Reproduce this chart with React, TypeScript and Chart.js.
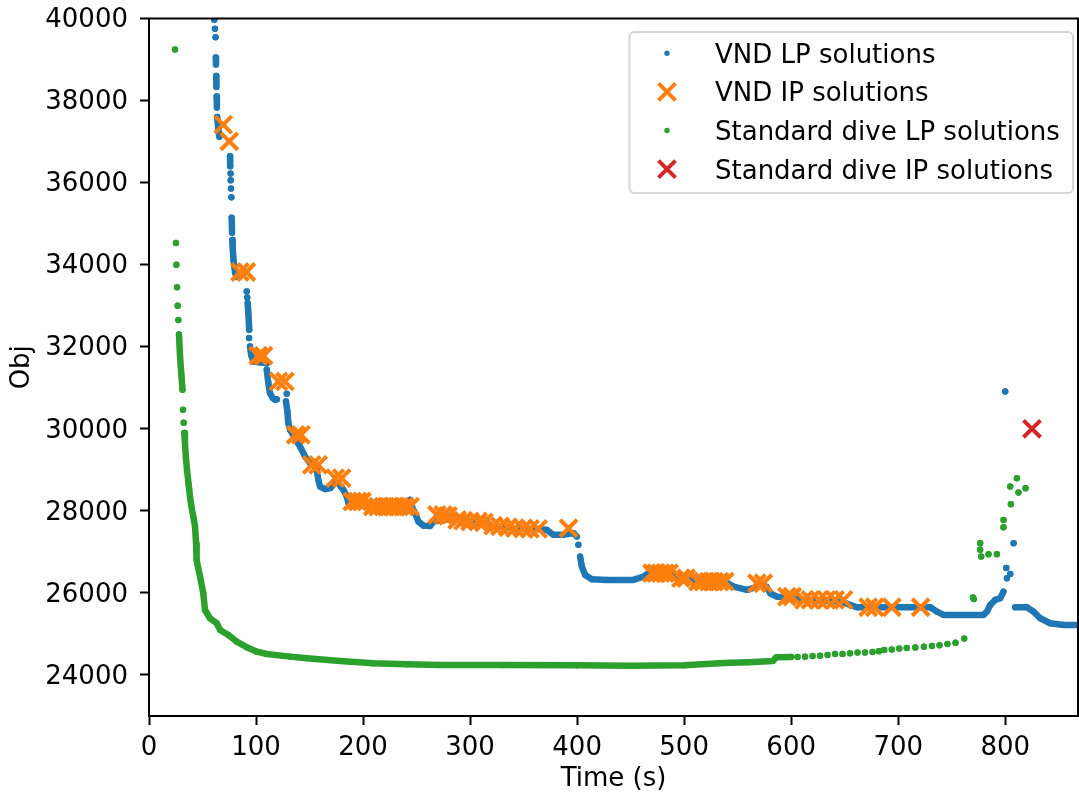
import React, { useEffect, useRef } from 'react';
import { Chart, registerables } from 'chart.js';

Chart.register(...registerables);

const FONT = '"DejaVu Sans", "Liberation Sans", sans-serif';

const seriesLabels = ['VND LP solutions', 'VND IP solutions', 'Standard dive LP solutions', 'Standard dive IP solutions'];
const seriesColors = ['#1f77b4', '#ff7f0e', '#2ca02c', '#d62728'];
const xTickValues = [0, 100, 200, 300, 400, 500, 600, 700, 800];
const yTickValues = [24000, 26000, 28000, 30000, 32000, 34000, 36000, 38000, 40000];
const xLimits = [0, 868];
const yLimits = [23000, 40000];
const xTitle = 'Time (s)';
const yTitle = 'Obj';

type P = [number, number];

// VND LP solutions: dense runs of points and isolated points
const vndLpRuns: P[][] = [
  [[62.4, 39050], [62.6, 38880]],
  [[62.8, 38600], [63.0, 38330]],
  [[63.2, 38100], [63.4, 37830]],
  [[63.7, 37600], [64.6, 37350], [65.7, 37120]],
  [[75.7, 36640], [75.9, 36400]],
  [[77.2, 35146], [77.6, 34780]],
  [[77.8, 34600], [78.2, 34415], [79.0, 34100], [80.4, 33805], [82.0, 33700], [84.0, 33700]],
  [[92.2, 33065], [92.8, 32830], [93.7, 32415]],
  [[94.4, 32007], [95.5, 31800], [97.5, 31640], [103, 31620], [110, 31600]],
  [[110, 31440], [111.5, 31115], [113, 30870], [115.6, 30750], [117.8, 30707], [119.5, 30720]],
  [[128, 30666], [129.3, 30422], [130.2, 30139], [131.8, 29976], [136.4, 29773], [141.1, 29568], [145.8, 29324], [150.5, 29163], [155, 29080], [156.7, 29000], [158.2, 28756], [159.8, 28593], [164.5, 28530], [169.2, 28553], [172.2, 28634], [175, 28700]],
  [[179, 28600], [181.6, 28512], [184.8, 28349], [186.3, 28187], [200, 28180], [220, 28120], [240, 28100], [246, 28080]],
  [[247.5, 28000], [248.6, 27950], [251.7, 27740], [256.4, 27640], [262.6, 27630], [265.7, 27739], [280, 27800], [298.4, 27764], [320, 27640], [343.6, 27560], [358.6, 27560], [371.6, 27537], [377.9, 27415], [387.2, 27415], [392, 27440], [396.6, 27455], [399.7, 27374]],
  [[402.8, 26886], [404.4, 26642], [407.5, 26439], [413.7, 26334], [427.8, 26317], [452.6, 26317], [462, 26398], [466.6, 26480], [490, 26439], [497, 26380], [505, 26330], [512, 26290], [540, 26250], [546, 26154], [558.6, 26073], [565, 26120], [572, 26180], [577, 26150], [580.4, 25992], [586.6, 25910], [600, 25870], [612, 25829], [640, 25800], [650, 25760], [655, 25707], [661.4, 25651], [730, 25651], [736.1, 25544], [742.4, 25463], [779.7, 25463], [782.9, 25544], [786, 25707], [790.6, 25829], [795.3, 25870], [798.4, 26032]],
  [[809.3, 25651], [820.3, 25651], [826.4, 25544], [832.7, 25383], [842, 25261], [854.5, 25220], [870, 25220]],
];
const vndLpDots: P[] = [
  [60.6, 40250], [61.0, 39970], [61.6, 39750], [62.2, 39545],
  [76.2, 36220], [76.3, 36057], [76.6, 35854], [77.0, 35642],
  [91.3, 33349], [91.8, 33200], [93.5, 32212], [128.7, 30854], [244, 28268], [401.2, 27171],
  [800, 30910], [801, 26610], [801.6, 26358], [804.7, 26463], [807.8, 27212],
];

// VND IP solutions
const vndIpTime = [69.4, 75, 85, 91, 102, 107, 121, 127, 137, 142, 152, 158, 174, 180, 190, 195, 199, 209, 214, 219, 224, 229, 234, 239, 244, 269, 274.8, 279.4, 287.9, 293.5, 300, 307.5, 313, 321.5, 328, 335.5, 342, 349.5, 356, 363.6, 392, 470, 474, 478, 482, 486, 497, 502, 513, 518, 523, 528, 533, 538, 568, 574, 596, 601, 612, 618, 626, 633, 641, 649, 672, 678, 694, 721];
const vndIpObj = [37415, 37007, 33822, 33822, 31780, 31780, 31154, 31154, 29854, 29854, 29122, 29122, 28797, 28797, 28228, 28228, 28228, 28105, 28105, 28105, 28105, 28105, 28105, 28105, 28105, 27900, 27900, 27880, 27780, 27760, 27740, 27740, 27720, 27640, 27620, 27600, 27580, 27570, 27560, 27560, 27577, 26480, 26480, 26480, 26480, 26480, 26358, 26358, 26276, 26276, 26276, 26276, 26276, 26276, 26236, 26236, 25910, 25910, 25829, 25829, 25829, 25829, 25829, 25829, 25651, 25651, 25651, 25651];

// Standard dive LP solutions
const diveLpRuns: P[][] = [
  [[28, 32300], [29, 31765], [30.3, 31300], [31.3, 30950]],
  [[33.0, 29900], [33.6, 29650], [34.5, 29300], [35.5, 29000], [37, 28650], [38.3, 28350], [40, 28050], [41.5, 27850], [43, 27617], [44, 27200], [44.5, 26805], [46, 26600], [47.7, 26398], [50.7, 25992], [52.3, 25585], [57, 25383], [63.3, 25260], [66.4, 25098], [74.1, 24976], [82, 24812], [91.3, 24675], [100.7, 24568], [110, 24512], [131.8, 24447], [147.4, 24407], [178.5, 24341], [209.6, 24285], [240.8, 24260], [272, 24244], [330, 24240], [400, 24235], [450, 24222], [500, 24235], [537, 24290], [560, 24310], [583, 24341], [586, 24431], [600, 24440]],
];
const diveLpDots: P[] = [
  [24.3, 39244], [25.2, 34529], [25.6, 34000], [26.2, 33450], [26.8, 33000], [27.4, 32650], [31.8, 30463], [32.4, 30150],
  [606, 24440], [613, 24447], [620, 24460], [627, 24470], [634, 24488], [641, 24512], [648, 24512], [655, 24528], [662, 24545], [669, 24545], [676, 24560], [682, 24580], [687, 24610], [694, 24620], [701, 24645], [708, 24658], [716, 24672], [724, 24690], [731.5, 24707], [738.6, 24724], [746, 24756], [753.6, 24788], [761.7, 24886],
  [769.8, 25890], [770.6, 25850], [776.6, 27212], [776.6, 27050], [777.6, 26886], [784.4, 26943], [792.2, 26943], [798.4, 27780], [798.4, 27602], [805.3, 28163], [804.7, 28593], [810.9, 28797], [812.4, 28447], [819, 28553],
];

// Standard dive IP solutions
const diveIpTime = [825];
const diveIpObj = [30000];

function buildTrace(runs: P[][], dots: P[]) {
  const out: { x: number; y: number | null }[] = [];
  const gap = () => {
    if (out.length) out.push({ x: out[out.length - 1].x, y: null });
  };
  runs.forEach((run) => {
    gap();
    run.forEach(([x, y]) => out.push({ x, y }));
  });
  dots.forEach(([x, y]) => {
    gap();
    out.push({ x, y });
  });
  return out;
}

const DOT_R = 3.1;
const LINE_W = 6.5;
const X_R = 12;
const X_W = 4;

function drawX(ctx: CanvasRenderingContext2D, x: number, y: number, color: string) {
  const d = X_R * Math.SQRT1_2;
  ctx.save();
  ctx.strokeStyle = color;
  ctx.lineWidth = X_W;
  ctx.beginPath();
  ctx.moveTo(x - d, y - d);
  ctx.lineTo(x + d, y + d);
  ctx.moveTo(x + d, y - d);
  ctx.lineTo(x - d, y + d);
  ctx.stroke();
  ctx.restore();
}

const framePlugin = {
  id: 'frame',
  afterDatasetsDraw(chart: any) {
    const { ctx, chartArea } = chart;
    ctx.save();
    ctx.strokeStyle = '#000';
    ctx.lineWidth = 2;
    ctx.strokeRect(chartArea.left, chartArea.top, chartArea.right - chartArea.left, chartArea.bottom - chartArea.top);
    ctx.restore();
  },
};

const legendPlugin = {
  id: 'insideLegend',
  afterDraw(chart: any) {
    const ctx: CanvasRenderingContext2D = chart.ctx;
    const x0 = 629.5, y0 = 32, w = 443.5, h = 161, r = 5;
    ctx.save();
    ctx.beginPath();
    ctx.moveTo(x0 + r, y0);
    ctx.lineTo(x0 + w - r, y0);
    ctx.arcTo(x0 + w, y0, x0 + w, y0 + r, r);
    ctx.lineTo(x0 + w, y0 + h - r);
    ctx.arcTo(x0 + w, y0 + h, x0 + w - r, y0 + h, r);
    ctx.lineTo(x0 + r, y0 + h);
    ctx.arcTo(x0, y0 + h, x0, y0 + h - r, r);
    ctx.lineTo(x0, y0 + r);
    ctx.arcTo(x0, y0, x0 + r, y0, r);
    ctx.closePath();
    ctx.fillStyle = 'rgba(255,255,255,0.8)';
    ctx.fill();
    ctx.lineWidth = 2;
    ctx.strokeStyle = '#d6d6d6';
    ctx.stroke();

    const markerX = 667;
    const textX = 715;
    chart.data.datasets.forEach((ds: any, i: number) => {
      const rowY = 53.3 + i * 38.6;
      const color = seriesColors[i];
      if (ds.pointStyle === 'crossRot') {
        drawX(ctx, markerX, rowY, color);
      } else {
        ctx.fillStyle = color;
        ctx.beginPath();
        ctx.arc(markerX, rowY, 2.7, 0, Math.PI * 2);
        ctx.fill();
      }
      ctx.fillStyle = '#000';
      ctx.font = `26px ${FONT}`;
      ctx.textAlign = 'left';
      ctx.textBaseline = 'alphabetic';
      ctx.fillText(ds.label, textX, rowY + 9.5);
    });
    ctx.restore();
  },
};

export default function App() {
  const ref = useRef<HTMLCanvasElement | null>(null);

  useEffect(() => {
    document.body.style.margin = '0';
    const canvas = ref.current;
    if (!canvas) return;

    const lineSeries = (i: number, data: any[], order: number) => ({
      label: seriesLabels[i],
      data,
      showLine: true,
      spanGaps: false,
      borderColor: seriesColors[i],
      backgroundColor: seriesColors[i],
      borderWidth: LINE_W,
      borderCapStyle: 'round',
      borderJoinStyle: 'round',
      tension: 0,
      pointStyle: 'circle',
      pointRadius: DOT_R,
      pointHoverRadius: DOT_R,
      pointBorderWidth: 0,
      pointBackgroundColor: seriesColors[i],
      order,
      clip: 0,
    });
    const crossSeries = (i: number, xs: number[], ys: number[], order: number) => ({
      label: seriesLabels[i],
      data: xs.map((x, k) => ({ x, y: ys[k] })),
      showLine: false,
      pointStyle: 'crossRot',
      pointRadius: X_R,
      pointHoverRadius: X_R,
      pointBorderWidth: X_W,
      pointBorderColor: seriesColors[i],
      pointBackgroundColor: seriesColors[i],
      borderColor: seriesColors[i],
      backgroundColor: seriesColors[i],
      order,
      clip: 0,
    });

    const zeroPad = (s: any) => {
      s.paddingTop = 0;
      s.paddingBottom = 0;
      s.paddingLeft = 0;
      s.paddingRight = 0;
    };

    const tickFont = { family: FONT, size: 26 };
    const chart = new Chart(canvas, {
      type: 'scatter',
      data: {
        datasets: [
          lineSeries(0, buildTrace(vndLpRuns, vndLpDots), 4),
          crossSeries(1, vndIpTime, vndIpObj, 3),
          lineSeries(2, buildTrace(diveLpRuns, diveLpDots), 2),
          crossSeries(3, diveIpTime, diveIpObj, 1),
        ] as any,
      },
      options: {
        animation: false,
        responsive: false,
        devicePixelRatio: 1,
        events: [],
        layout: { autoPadding: false, padding: { top: 18.5, right: 1, left: 0, bottom: 0 } },
        plugins: { legend: { display: false }, tooltip: { enabled: false } },
        scales: {
          x: {
            type: 'linear',
            min: xLimits[0],
            max: xLimits[1],
            afterFit: (s: any) => { s.height = 79; zeroPad(s); },
            afterBuildTicks: (s: any) => { s.ticks = xTickValues.map((v) => ({ value: v })); },
            grid: { display: true, drawOnChartArea: false, drawTicks: true, tickLength: 9, tickWidth: 2, tickColor: '#000' },
            border: { display: true, color: '#000', width: 2 },
            ticks: { color: '#000', font: tickFont, padding: 8, maxRotation: 0, autoSkip: false, callback: (v: any) => String(v) },
            title: { display: true, text: xTitle, color: '#000', font: { family: FONT, size: 26, lineHeight: 1.2 }, padding: { top: 0, bottom: 0 } },
          },
          y: {
            type: 'linear',
            min: yLimits[0],
            max: yLimits[1],
            afterFit: (s: any) => { s.width = 149; zeroPad(s); },
            afterBuildTicks: (s: any) => { s.ticks = yTickValues.map((v) => ({ value: v })); },
            grid: { display: true, drawOnChartArea: false, drawTicks: true, tickLength: 9, tickWidth: 2, tickColor: '#000' },
            border: { display: true, color: '#000', width: 2 },
            ticks: { color: '#000', font: tickFont, padding: 12, labelOffset: 2, autoSkip: false, callback: (v: any) => String(v) },
            title: { display: true, text: yTitle, color: '#000', font: { family: FONT, size: 26, lineHeight: 1.2 }, padding: { top: 7, bottom: 0 } },
          },
        },
      } as any,
      plugins: [framePlugin, legendPlugin],
    });
    return () => chart.destroy();
  }, []);

  return (
    <canvas
      ref={ref}
      width={1079}
      height={795}
      style={{ display: 'block', width: '1079px', height: '795px' }}
    />
  );
}
